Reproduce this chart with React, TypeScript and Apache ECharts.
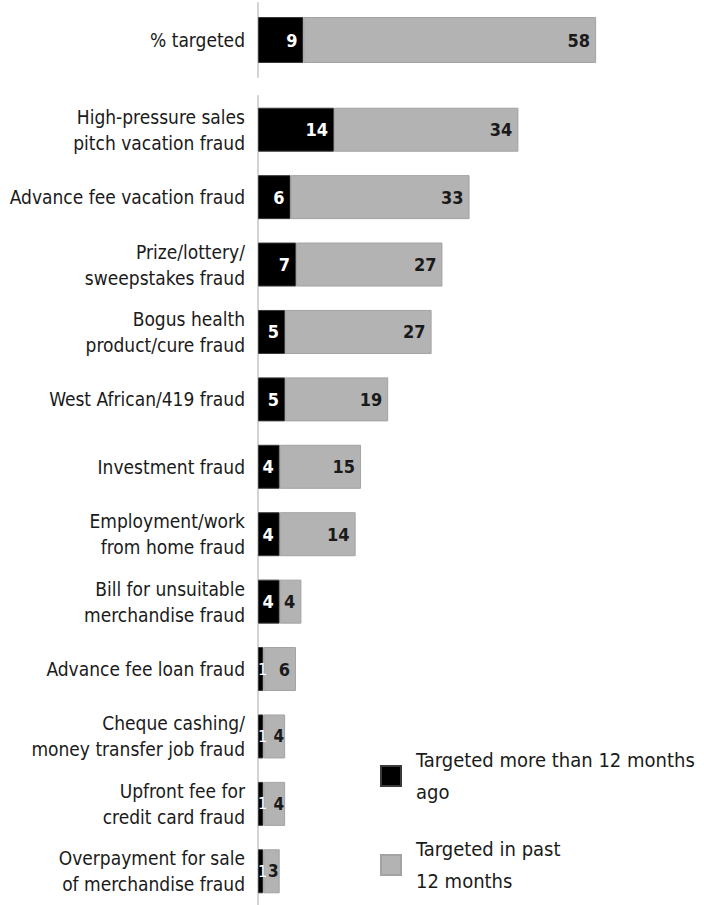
import React, { useEffect, useRef } from "react";
import * as echarts from "echarts";

const summaryCategories = ["% targeted"];
const summaryOlder = [9];
const summaryRecent = [58];

const fraudCategories = [
  "High-pressure sales\npitch vacation fraud",
  "Advance fee vacation fraud",
  "Prize/lottery/\nsweepstakes fraud",
  "Bogus health\nproduct/cure fraud",
  "West African/419 fraud",
  "Investment fraud",
  "Employment/work\nfrom home fraud",
  "Bill for unsuitable\nmerchandise fraud",
  "Advance fee loan fraud",
  "Cheque cashing/\nmoney transfer job fraud",
  "Upfront fee for\ncredit card fraud",
  "Overpayment for sale\nof merchandise fraud",
];
const fraudOlder = [14, 6, 7, 5, 5, 4, 4, 4, 1, 1, 1, 1];
const fraudRecent = [34, 33, 27, 27, 19, 15, 14, 4, 6, 4, 4, 3];

const OLDER = "Targeted more than 12 months ago";
const RECENT = "Targeted in past 12 months";

const FONT = "'Liberation Sans Narrow', 'DejaVu Sans Condensed', 'Roboto Condensed', sans-serif";

export default function App() {
  const ref = useRef<HTMLDivElement>(null);
  useEffect(() => {
    document.body.style.margin = "0";
    const chart = echarts.init(ref.current!, null, { renderer: "svg" });
    const olderLabel = {
      show: true,
      position: "insideRight",
      distance: 6,
      color: "#ffffff",
      fontSize: 18,
      fontWeight: "bold",
      fontFamily: FONT,
    };
    const recentLabel = {
      show: true,
      position: "insideRight",
      distance: 6,
      color: "#1a1a1a",
      fontSize: 18,
      fontWeight: "bold",
      fontFamily: FONT,
    };
    const olderData = (arr: number[]) =>
      arr.map((v) =>
        v <= 1
          ? {
              value: v,
              label: { position: "insideLeft", distance: 0, fontSize: 16, fontWeight: "normal" },
            }
          : v
      );
    const recentData = (arr: number[], older: number[]) =>
      arr.map((v, i) =>
        older[i] <= 1 && v <= 4
          ? { value: v, label: { position: "insideRight", distance: 1, fontSize: 17 } }
          : v
      );
    const catAxis = (gridIndex: number, data: string[]) => ({
      type: "category",
      gridIndex,
      data,
      inverse: true,
      axisTick: { show: false },
      axisLine: { show: true, lineStyle: { color: "#d4d4d4", width: 2 } },
      axisLabel: {
        color: "#1a1a1a",
        fontSize: 19,
        lineHeight: 26,
        margin: 13,
        fontFamily: FONT,
        align: "right",
      },
    });
    const itemOlder = { color: "#000000", borderColor: "#3a3a3a", borderWidth: 1 };
    const itemRecent = { color: "#b3b3b3", borderColor: "#a3a3a3", borderWidth: 1 };
    chart.setOption({
      animation: false,
      grid: [
        { left: 258, top: 3, width: 434, height: 74 },
        { left: 258, top: 96, width: 434, height: 813 },
      ],
      xAxis: [
        { type: "value", gridIndex: 0, min: 0, max: 86, show: false },
        { type: "value", gridIndex: 1, min: 0, max: 80, show: false },
      ],
      yAxis: [catAxis(0, summaryCategories), catAxis(1, fraudCategories)],
      legend: {
        orient: "vertical",
        left: 375,
        top: 739,
        itemWidth: 20,
        itemHeight: 20,
        itemGap: 25,
        icon: "rect",
        data: [OLDER, RECENT],
        formatter: (name: string) =>
          name === OLDER ? "Targeted more than 12 months\nago" : "Targeted in past\n12 months",
        textStyle: {
          fontSize: 20,
          lineHeight: 32,
          color: "#1a1a1a",
          fontFamily: FONT,
          padding: [0, 0, 0, 10],
        },
      },
      series: [
        {
          name: OLDER,
          type: "bar",
          stack: "s0",
          xAxisIndex: 0,
          yAxisIndex: 0,
          barWidth: 46,
          data: olderData(summaryOlder),
          itemStyle: itemOlder,
          label: olderLabel,
        },
        {
          name: RECENT,
          type: "bar",
          stack: "s0",
          xAxisIndex: 0,
          yAxisIndex: 0,
          barWidth: 46,
          data: summaryRecent,
          itemStyle: itemRecent,
          label: recentLabel,
        },
        {
          name: OLDER,
          type: "bar",
          stack: "s1",
          xAxisIndex: 1,
          yAxisIndex: 1,
          barWidth: 44,
          data: olderData(fraudOlder),
          itemStyle: itemOlder,
          label: olderLabel,
        },
        {
          name: RECENT,
          type: "bar",
          stack: "s1",
          xAxisIndex: 1,
          yAxisIndex: 1,
          barWidth: 44,
          data: recentData(fraudRecent, fraudOlder),
          itemStyle: itemRecent,
          label: recentLabel,
        },
      ],
    });
    return () => chart.dispose();
  }, []);
  return <div ref={ref} style={{ width: 704, height: 905 }} />;
}
